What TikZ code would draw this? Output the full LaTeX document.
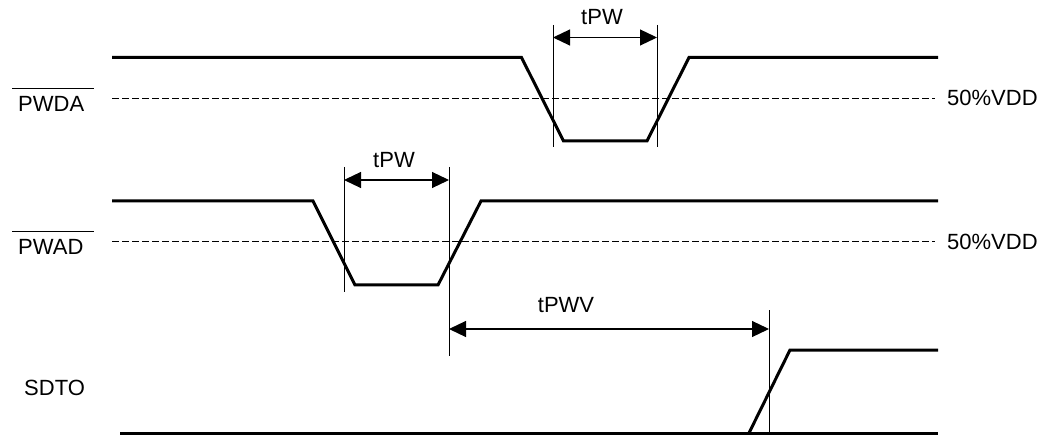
\documentclass[tikz,border=0pt]{standalone}
\usepackage{fontspec}
\setmainfont{Liberation Sans}
\usetikzlibrary{arrows.meta}
\begin{document}
\begin{tikzpicture}[x=1pt,y=-1pt,
  wave/.style={line width=3pt,line join=miter},
  guide/.style={line width=1pt},
  half/.style={line width=1pt,dash pattern=on 6.5pt off 3.5pt},
  dim/.style={line width=1.2pt,{Triangle[length=17pt,width=16pt]}-{Triangle[length=17pt,width=16pt]}},
  lbl/.style={font=\fontsize{22}{26}\selectfont,inner sep=0pt}]
\useasboundingbox (0,0) rectangle (1051,435);
% PWDA waveform
\coordinate (a0) at (112,57.5);
\coordinate (a1) at (521.5,57.5);
\coordinate (a2) at (563.5,141);
\coordinate (a3) at (647,141);
\coordinate (a4) at (689,57.5);
\coordinate (a5) at (938,57.5);
\draw[wave] (a0) -- (a1) -- (a2) -- (a3) -- (a4) -- (a5);
\coordinate (da0) at (112,99);
\coordinate (da1) at (935,99);
\draw[half] (da0) -- (da1);
\node[lbl,anchor=west] (vdd1) at (947,98) {50\%VDD};
\node[lbl,anchor=base west] (pwda) at (18,112) {PWDA};
\coordinate (oa1) at (12,89);
\coordinate (oa2) at (94,89);
\draw[guide] (oa1) -- (oa2);
% tPW 1
\coordinate (g1t) at (553,25);
\coordinate (g1b) at (553,147);
\coordinate (g2t) at (657,25);
\coordinate (g2b) at (657,147);
\draw[guide] (g1t) -- (g1b);
\draw[guide] (g2t) -- (g2b);
\coordinate (ar1) at (553,37.5);
\coordinate (ar2) at (657,37.5);
\draw[dim] (ar1) -- (ar2);
\node[lbl] (tpw1) at (602,17) {tPW};
% PWAD waveform
\coordinate (b0) at (112,201);
\coordinate (b1) at (313,201);
\coordinate (b2) at (355,285);
\coordinate (b3) at (438,285);
\coordinate (b4) at (481,201);
\coordinate (b5) at (938,201);
\draw[wave] (b0) -- (b1) -- (b2) -- (b3) -- (b4) -- (b5);
\coordinate (db0) at (112,242);
\coordinate (db1) at (935,242);
\draw[half] (db0) -- (db1);
\node[lbl,anchor=west] (vdd2) at (947,242) {50\%VDD};
\node[lbl,anchor=base west] (pwad) at (18,255) {PWAD};
\coordinate (ob1) at (12,232);
\coordinate (ob2) at (94,232);
\draw[guide] (ob1) -- (ob2);
% tPW 2
\coordinate (h1t) at (344,167);
\coordinate (h1b) at (344,292);
\coordinate (h2t) at (449,167);
\coordinate (h2b) at (449,356);
\draw[guide] (h1t) -- (h1b);
\draw[guide] (h2t) -- (h2b);
\coordinate (br1) at (344,180);
\coordinate (br2) at (449,180);
\draw[dim] (br1) -- (br2);
\node[lbl] (tpw2) at (394,160) {tPW};
% tPWV
\coordinate (v1t) at (769,310);
\coordinate (v1b) at (769,432);
\draw[guide] (v1t) -- (v1b);
\coordinate (cr1) at (449,329);
\coordinate (cr2) at (769,329);
\draw[dim] (cr1) -- (cr2);
\node[lbl] (tpwv) at (566,305) {tPWV};
% SDTO
\coordinate (s0) at (120,433);
\coordinate (s1) at (749,433);
\coordinate (s2) at (790,350);
\coordinate (s3) at (938,350);
\coordinate (s4) at (938,433);
\draw[wave] (s0) -- (s4);
\draw[wave] (s1) -- (s2) -- (s3);
\node[lbl,anchor=base west] (sdto) at (24,395) {SDTO};
\end{tikzpicture}
\end{document}
